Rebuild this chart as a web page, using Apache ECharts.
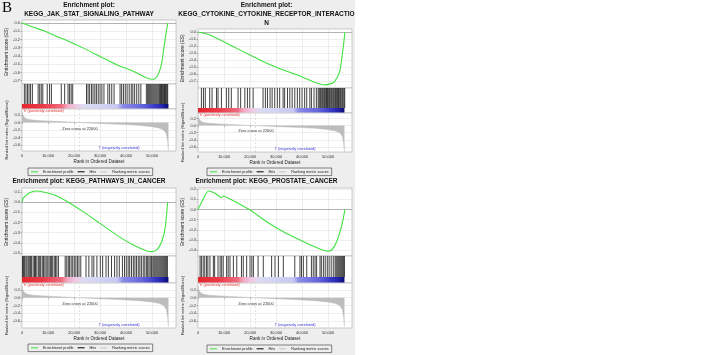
<!DOCTYPE html>
<html><head><meta charset="utf-8">
<script src="https://cdn.jsdelivr.net/npm/echarts@6/dist/echarts.min.js"></script>
<style>html,body{margin:0;padding:0;background:#fff}#c{width:708px;height:355px}</style>
</head><body><div id="c"></div>
<script>
// ---------------- data ----------------
const xTicks = [0, 10000, 20000, 30000, 40000, 50000];
const metricTicks = [0.2, 0.0, -0.2, -0.4, -0.6];
const jakTicks = [0.0, -0.1, -0.2, -0.3, -0.4, -0.5, -0.6, -0.7];
const cytTicks = [0.0, -0.1, -0.2, -0.3, -0.4, -0.5, -0.6, -0.7];
const pathTicks = [0.1, 0.0, -0.1, -0.2, -0.3, -0.4, -0.5];
const prosTicks = [0.2, 0.1, 0.0, -0.1, -0.2, -0.3, -0.4];

const jakRanks = [0, 4350, 8200, 12000, 17200, 23600, 30000, 36400, 42800, 48000, 50500, 51800, 52800, 53700, 55000, 56000];
const jakES    = [0, -0.052, -0.092, -0.145, -0.213, -0.305, -0.406, -0.506, -0.586, -0.667, -0.683, -0.655, -0.59, -0.486, -0.205, 0];

const cytRanks = [0, 4600, 13600, 20000, 26400, 32800, 39200, 44300, 46900, 48800, 52000, 53300, 54600, 55700, 56500];
const cytES    = [0, -0.043, -0.21, -0.329, -0.447, -0.543, -0.629, -0.71, -0.743, -0.757, -0.724, -0.66, -0.543, -0.257, 0];

const pathRanks = [0, 500, 3100, 5600, 8200, 12000, 17200, 23600, 30000, 36400, 42800, 48000, 49900, 51800, 53700, 55000, 56000];
const pathES    = [0, 0.042, 0.095, 0.111, 0.101, 0.075, 0.01, -0.095, -0.209, -0.324, -0.422, -0.48, -0.487, -0.47, -0.389, -0.258, 0];

const prosRanks = [0, 1800, 4000, 6500, 9100, 9700, 12300, 20000, 26400, 32800, 39200, 45700, 49500, 51400, 53300, 55300, 56500];
const prosES    = [0, 0.093, 0.181, 0.159, 0.116, 0.132, 0.103, -0.005, -0.12, -0.218, -0.299, -0.375, -0.407, -0.397, -0.316, -0.152, 0];

const jakHits = [900, 1500, 2100, 2700, 3300, 4000, 6200, 6800, 7400, 8000, 9700, 10600, 11300, 15100, 16400, 17700, 18300, 18900, 19500,
  24800, 25400, 26000, 26700, 27300, 28000, 28600, 29300, 30000, 30700, 31500, 33000, 33700, 34500, 35400, 37700, 38300, 39000, 39700,
  40400, 41200, 42000, 42600, 43300, 44100, 44900, 45700, 47800, 48300, 48700, 49100, 49500, 49900, 50300, 50700, 51100, 51500, 51900,
  52300, 52700, 53000, 53300, 53600, 53900, 54200, 54500, 54800, 55100, 55400, 55700, 56000];
const cytHits = [1300, 2100, 2800, 4500, 5400, 7100, 7700, 9000, 10900, 11800, 12800, 15400, 16400, 18000, 19000, 19900, 21200,
  25000, 25900, 26700, 27700, 28500, 29500, 30500, 31400, 32700, 33300, 34400, 35300, 36200, 37200, 38200, 39100, 40000, 41000, 41800,
  43000, 43600, 44600, 45500, 46200, 46600, 47000, 47300, 47700, 48000, 48400, 48700, 49100, 49400, 49800, 50100, 50500, 50800, 51200,
  51500, 51900, 52200, 52600, 52900, 53300, 53600, 54000, 54300, 54700, 55000, 55400, 55700, 56100, 56400];
const pathHits = [200, 600, 1000, 1500, 1900, 2400, 2800, 3300, 3700, 4300, 4800, 5200, 5700, 6300, 6800, 7200, 7800, 8300, 8800, 9300,
  9900, 10400, 10900, 11300, 11800, 12400, 12900, 13400, 14000, 16600, 17200, 17800, 18300, 18900, 19500, 20100, 20700, 21300, 21900,
  22600, 24600, 25700, 26900, 27600, 28800, 30100, 31000, 32300, 33200, 34400, 35600, 36500, 37400, 38600, 39400, 40100, 40800, 41400,
  42100, 42800, 43400, 44000, 44700, 45300, 45900, 46600, 47200, 47800, 48300, 48800, 49300, 49800, 50300, 50700, 51100, 51500, 51900,
  52300, 52700, 53100, 53500, 53900, 54300, 54700, 55100, 55500, 55900];
const prosHits = [800, 1300, 2000, 2600, 3300, 3800, 4600, 5900, 6400, 7700, 8500, 9100, 9700, 11000, 11600, 12300, 13600, 14900, 16700,
  17400, 18700, 20000, 20700, 21300, 23100, 25100, 28300, 29600, 30900, 32800, 37200, 39200, 39800, 40500, 41800, 43600, 44300, 45000,
  45600, 46900, 47400, 48200, 48900, 49700, 50400, 51200, 52000, 52700, 53100, 53500, 53900, 54300, 54700, 55100, 55500, 55900, 56300];

const metricRanks  = [0, 300, 1000, 2000, 4000, 7000, 10000, 14000, 18000, 22000, 26000, 30000, 35000, 40000, 45000, 50000, 53000, 54500, 55500, 56000, 56300];
const metricValues = [0.30, 0.20, 0.13, 0.09, 0.065, 0.05, 0.04, 0.025, 0.012, 0, -0.012, -0.025, -0.04, -0.055, -0.075, -0.11, -0.15, -0.2, -0.3, -0.5, -0.75];
const zeroCross = 22000;
const listSize = 56300;

const titles = {
  jak: ['Enrichment plot:', 'KEGG_JAK_STAT_SIGNALING_PATHWAY'],
  cyt: ['Enrichment plot:', 'KEGG_CYTOKINE_CYTOKINE_RECEPTOR_INTERACTIO', 'N'],
  path: ['Enrichment plot: KEGG_PATHWAYS_IN_CANCER'],
  pros: ['Enrichment plot: KEGG_PROSTATE_CANCER']
};

// ---------------- layout ----------------
const xMax = 59200, W = 154;
const panels = [
  {key:'jak', ranks:jakRanks, es:jakES, hits:jakHits, ticks:jakTicks, esMin:-0.74, esMax:0.036, mMin:-0.76, mMax:0.36,
   left:22, cx:89, titleY:5, esTop:20, esH:64, hitsTop:84, hitsH:25, barFrac:0.2, mTop:109, mH:42, legTop:168, legLeft:28},
  {key:'cyt', ranks:cytRanks, es:cytES, hits:cytHits, ticks:cytTicks, esMin:-0.8, esMax:0.043, mMin:-0.74, mMax:0.354,
   left:198, cx:266.5, titleY:5, esTop:29, esH:59, hitsTop:88, hitsH:25, barFrac:0.2, mTop:113, mH:39, legTop:168, legLeft:207},
  {key:'path', ranks:pathRanks, es:pathES, hits:pathHits, ticks:pathTicks, esMin:-0.53, esMax:0.14, mMin:-0.78, mMax:0.38,
   left:22, cx:89, titleY:181, esTop:188, esH:68, hitsTop:256, hitsH:27, barFrac:0.22, mTop:283, mH:45, legTop:344, legLeft:28},
  {key:'pros', ranks:prosRanks, es:prosES, hits:prosHits, ticks:prosTicks, esMin:-0.456, esMax:0.21, mMin:-0.78, mMax:0.38,
   left:198, cx:266.5, titleY:181, esTop:188, esH:68, hitsTop:256, hitsH:27, barFrac:0.22, mTop:283, mH:45, legTop:345, legLeft:207}
];

const FONT = '"Liberation Sans", Arial, sans-serif';
const GREEN = '#3fe23f';
const grids = [], xAxes = [], yAxes = [], series = [], legends = [], graphics = [];
const gridStyle = {show:true, backgroundColor:'#fff', borderColor:'#a9a9a9', borderWidth:0.6};
const splitStyle = {show:true, lineStyle:{color:'#e3e3e3', width:0.6}};
const fmtX = v => v.toLocaleString('en-US');
const fmtY = v => v.toFixed(1);

graphics.push({type:'rect', z:-100, silent:true, shape:{x:0, y:0, width:355, height:355}, style:{fill:'#eeeeee'}});
graphics.push({type:'text', x:2, y:1, z:100, style:{text:'B', font:'15px "Liberation Serif", serif', fill:'#000'}});

const barStops = [
  {offset:0, color:'#e4262f'}, {offset:0.14, color:'#ea3a48'}, {offset:0.27, color:'#ef6a7e'},
  {offset:0.31, color:'#f3a9c6'}, {offset:0.37, color:'#eecae2'}, {offset:0.42, color:'#dcdcf4'},
  {offset:0.65, color:'#c8c8f2'}, {offset:0.69, color:'#8a8ae8'}, {offset:0.82, color:'#6464dc'},
  {offset:0.9, color:'#3c3cc8'}, {offset:0.96, color:'#2222a8'}, {offset:1, color:'#0a0a70'}
];

panels.forEach((p) => {
  const g = grids.length;
  grids.push(Object.assign({left:p.left, top:p.esTop, width:W, height:p.esH}, gridStyle));
  grids.push(Object.assign({left:p.left, top:p.hitsTop, width:W, height:p.hitsH}, gridStyle));
  grids.push(Object.assign({left:p.left, top:p.mTop, width:W, height:p.mH}, gridStyle));
  const nameGapY = p.left === 22 ? 11.5 : 12.5;
  for (let k = 0; k < 3; k++) {
    xAxes.push({
      gridIndex:g + k, type:'value', min:0, max:xMax,
      axisLine:{show:false},
      axisTick:{show:k === 2, customValues:xTicks, length:1.5, lineStyle:{color:'#666', width:0.5}},
      axisLabel:{show:k === 2, customValues:xTicks, fontSize:4, margin:2.5, color:'#333', fontFamily:FONT, formatter:fmtX},
      splitLine:k === 1 ? {show:false} : splitStyle,
      name:k === 2 ? 'Rank in Ordered Dataset' : '', nameLocation:'middle', nameGap:8.5,
      nameTextStyle:{fontSize:4.6, color:'#222', fontFamily:FONT}
    });
  }
  yAxes.push({
    gridIndex:g, type:'value', min:p.esMin, max:p.esMax,
    axisLine:{show:false},
    axisTick:{show:true, customValues:p.ticks, length:1.5, lineStyle:{color:'#666', width:0.5}},
    axisLabel:{customValues:p.ticks, fontSize:4, margin:2, color:'#333', fontFamily:FONT, formatter:fmtY},
    splitLine:splitStyle,
    name:'Enrichment score (ES)', nameLocation:'middle', nameRotate:90, nameGap:nameGapY,
    nameTextStyle:{fontSize:4.8, color:'#222', fontFamily:FONT}
  });
  yAxes.push({gridIndex:g + 1, type:'value', min:0, max:1, show:false, splitLine:{show:false}});
  yAxes.push({
    gridIndex:g + 2, type:'value', min:p.mMin, max:p.mMax,
    axisLine:{show:false},
    axisTick:{show:true, customValues:metricTicks, length:1.5, lineStyle:{color:'#666', width:0.5}},
    axisLabel:{customValues:metricTicks, fontSize:4, margin:2, color:'#333', fontFamily:FONT, formatter:fmtY},
    splitLine:splitStyle,
    name:'Ranked list metric (Signal2Noise)', nameLocation:'middle', nameRotate:90, nameGap:nameGapY,
    nameTextStyle:{fontSize:4, color:'#222', fontFamily:FONT}
  });

  // enrichment profile
  series.push({
    name:'Enrichment profile', type:'line', xAxisIndex:g, yAxisIndex:g, symbol:'none', smooth:0.2,
    data:p.ranks.map((r, i) => [r, p.es[i]]),
    lineStyle:{color:GREEN, width:1.1}, itemStyle:{color:GREEN}, z:5,
    markLine:{silent:true, symbol:['none', 'none'], label:{show:false}, animation:false,
      lineStyle:{color:'#9a9a9a', width:0.7, type:'solid'}, data:[{yAxis:0}]}
  });
  // hits
  const bf = p.barFrac;
  series.push({
    name:'Hits', type:'custom', xAxisIndex:g + 1, yAxisIndex:g + 1, itemStyle:{color:'#000'},
    data:p.hits.map(h => [h, 1]), encode:{x:0, y:1},
    renderItem:(params, api) => {
      const x = api.value(0);
      const a = api.coord([x, bf]), b = api.coord([x, 1]);
      return {type:'line', shape:{x1:a[0], y1:a[1], x2:b[0], y2:b[1]}, style:{stroke:'#000', lineWidth:0.75}};
    }
  });
  // colour bar of the ranked list
  series.push({
    type:'custom', xAxisIndex:g + 1, yAxisIndex:g + 1, silent:true,
    data:[[0, listSize]], encode:{x:[0, 1]},
    renderItem:(params, api) => {
      const a = api.coord([api.value(0), bf]), b = api.coord([api.value(1), 0]);
      return {type:'rect', shape:{x:a[0], y:a[1], width:b[0] - a[0], height:b[1] - a[1] - 0.5},
        style:{fill:new echarts.graphic.LinearGradient(0, 0, 1, 0, barStops)}};
    }
  });
  // ranking metric
  series.push({
    name:'Ranking metric scores', type:'line', xAxisIndex:g + 2, yAxisIndex:g + 2, symbol:'none',
    data:metricRanks.map((r, i) => [r, metricValues[i]]),
    lineStyle:{color:'#b8b8b8', width:0.5}, itemStyle:{color:'#b8b8b8'},
    areaStyle:{color:'#bdbdbd', opacity:1, origin:0},
    markLine:{silent:true, symbol:['none', 'none'], label:{show:false}, animation:false,
      lineStyle:{color:'#c4c4c4', width:0.5, type:[2, 2]}, data:[{xAxis:zeroCross}]}
  });

  legends.push({
    left:p.legLeft, top:p.legTop, orient:'horizontal', padding:[1.8, 3], itemGap:4, itemWidth:7, itemHeight:1,
    borderColor:'#333', borderWidth:0.6, selectedMode:false,
    textStyle:{fontSize:3.8, color:'#222', fontFamily:FONT},
    data:[
      {name:'Enrichment profile', icon:'rect', itemStyle:{color:GREEN, borderWidth:0}, lineStyle:{color:GREEN}},
      {name:'Hits', icon:'rect', itemStyle:{color:'#000', borderWidth:0}, lineStyle:{color:'#000'}},
      {name:'Ranking metric scores', icon:'rect', itemStyle:{color:'#c4c4c4', borderWidth:0}, lineStyle:{color:'#c4c4c4'}}
    ]
  });

  // titles
  titles[p.key].forEach((t, i) => {
    graphics.push({type:'text', x:p.cx, y:p.titleY + i * 9.3, z:100,
      style:{text:t, font:'bold 6.5px ' + FONT, fill:'#111', align:'center', verticalAlign:'middle'}});
  });
  // annotations in the metric plot
  const mt = p.mTop;
  graphics.push({type:'text', x:p.left + 1, y:mt + 1.8, z:100,
    style:{text:"'h' (positively correlated)", font:'3.8px ' + FONT, fill:'#e03030', align:'left', verticalAlign:'middle'}});
  graphics.push({type:'text', x:p.left + 58, y:mt + p.mH * 0.47, z:100,
    style:{text:'Zero cross at 22000', font:'4px ' + FONT, fill:'#333', align:'center', verticalAlign:'middle'}});
  graphics.push({type:'text', x:p.left + 97, y:mt + p.mH - 3, z:100,
    style:{text:"'l' (negatively correlated)", font:'3.8px ' + FONT, fill:'#3535d0', align:'center', verticalAlign:'middle'}});
});

const chart = echarts.init(document.getElementById('c'), null, {renderer:'canvas'});
chart.setOption({
  animation:false, backgroundColor:'#ffffff',
  textStyle:{fontFamily:FONT},
  grid:grids, xAxis:xAxes, yAxis:yAxes, series:series, legend:legends, graphic:graphics
});
</script></body></html>
